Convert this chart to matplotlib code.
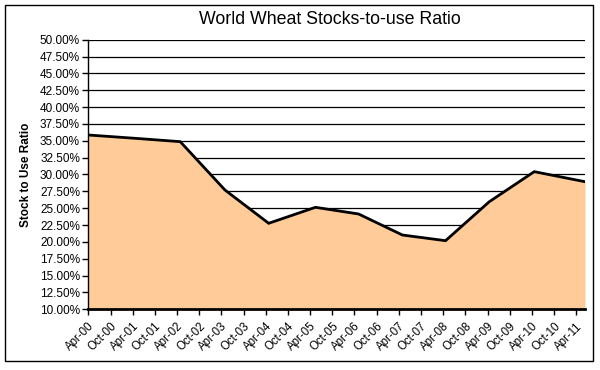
import matplotlib
matplotlib.use("Agg")
import matplotlib.pyplot as plt
import matplotlib.dates as mdates
from matplotlib.ticker import FuncFormatter, MultipleLocator
import pandas as pd
import numpy as np

# ---- data ----
dates = ["2000-04-01", "2001-04-20", "2002-04-28", "2003-05-01", "2004-04-25",
         "2005-05-15", "2006-05-05", "2007-05-01", "2008-04-20", "2009-04-15",
         "2010-04-20", "2011-06-12"]
ratio = [35.86, 35.37, 34.87, 27.70, 22.76, 25.13, 24.14, 21.02, 20.18, 25.96,
         30.42, 28.93]
tick_dates = pd.date_range("2000-04-01", "2011-04-01", freq="6MS")
tick_labels = [d.strftime("%b-%y") for d in tick_dates]
title = "World Wheat Stocks-to-use Ratio"
ylabel = "Stock to Use Ratio"

plt.rcParams['font.family'] = ['Liberation Sans', 'DejaVu Sans']

x = mdates.date2num(pd.to_datetime(dates))
y = np.array(ratio)

fig = plt.figure(figsize=(6.0, 3.7), dpi=100)
ax = fig.add_axes([88.3/600, 1-309.3/370, (585-88.3)/600, (309.3-39.7)/370])

ymin, ymax = 10, 50
ax.set_ylim(ymin, ymax)
ax.set_xlim(x[0], x[-1])
ax.yaxis.set_major_locator(MultipleLocator(2.5))
ax.yaxis.set_major_formatter(FuncFormatter(lambda v, p: f"{v:.2f}%"))
ax.grid(axis='y', color='black', linewidth=0.9, zorder=0)
ax.set_axisbelow(True)

ax.fill_between(x, ymin, y, color='#FFCC99', linewidth=0, zorder=2)
ax.plot(x, y, color='black', linewidth=2, zorder=3, solid_joinstyle='miter')

ax.set_xticks(mdates.date2num(tick_dates))
ax.set_xticklabels(tick_labels, rotation=45, ha='right', va='top',
                   rotation_mode='anchor', fontsize=8.3)
ax.tick_params(axis='x', direction='out', length=4, width=1, pad=4)
ax.tick_params(axis='y', direction='out', length=4, width=1, labelsize=8.5, pad=2)

for s in ['top', 'right']:
    ax.spines[s].set_visible(False)
ax.spines['left'].set_linewidth(1)
ax.spines['bottom'].set_linewidth(2)
ax.spines['bottom'].set_zorder(4)

ax.set_ylabel(ylabel, fontsize=8.5, fontweight='bold', labelpad=6)
fig.text(330/600, 1-20/370, title, ha='center', va='center', fontsize=12.8)

# outer chart frame
frame = plt.Rectangle((5/600, 1-361/370), (593-5)/600, (361-5)/370,
                      transform=fig.transFigure, fill=False,
                      edgecolor='black', linewidth=1)
fig.add_artist(frame)

fig.savefig("out.png", dpi=100)
